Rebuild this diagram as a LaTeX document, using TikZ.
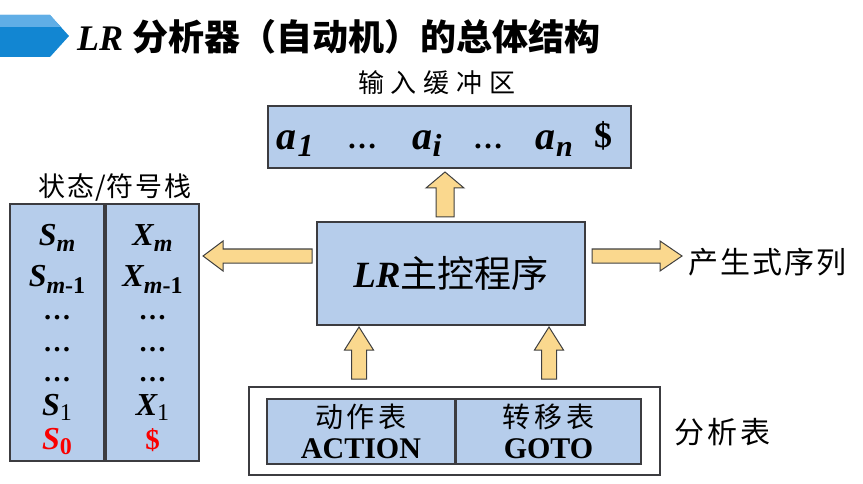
\documentclass[tikz,border=0pt]{standalone}
\usepackage{fontspec}
\setmainfont{Liberation Serif}
\newfontfamily\cjk{Noto Sans CJK SC}
\definecolor{boxfill}{RGB}{182,205,235}
\definecolor{boxline}{RGB}{60,60,64}
\definecolor{arrfill}{RGB}{250,216,142}
\definecolor{arrline}{RGB}{64,64,64}
\definecolor{bannerA}{RGB}{18,134,210}
\definecolor{bannerB}{RGB}{96,174,230}
\definecolor{stred}{RGB}{250,0,0}
\newcommand\hbarrow[6]{% y, xtail, xapex, shaft half, head half, head length (signed)
  \draw[barrow] (#2,#1-#4) -- (#3+#6,#1-#4) -- (#3+#6,#1-#5) -- (#3,#1) -- (#3+#6,#1+#5) -- (#3+#6,#1+#4) -- (#2,#1+#4) -- cycle;}
\newcommand\vbarrow[6]{% x, ytail, yapex, shaft half, head half, head length (signed)
  \draw[barrow] (#1-#4,#2) -- (#1-#4,#3+#6) -- (#1-#5,#3+#6) -- (#1,#3) -- (#1+#5,#3+#6) -- (#1+#4,#3+#6) -- (#1+#4,#2) -- cycle;}
\tikzset{
  box/.style={draw=boxline, line width=1.3pt, fill=boxfill, inner sep=0pt},
  barrow/.style={draw=arrline, line width=1pt, fill=arrfill, line join=miter},
  stk/.style={font=\fontsize{32}{32}\selectfont\bfseries\itshape, inner sep=0pt, anchor=base},
  sdots/.style={font=\fontsize{28}{28}\selectfont\bfseries, inner sep=0pt},
  buftxt/.style={font=\fontsize{40}{40}\selectfont\bfseries\itshape, inner sep=0pt, anchor=base},
  cjklbl/.style={font=\cjk\fontsize{26}{26}\selectfont, inner sep=0pt},
}
\begin{document}
\begin{tikzpicture}[x=1pt,y=-1pt]
\useasboundingbox (0,0) rectangle (863,484);
% title banner
\begin{scope}
  \clip (0,15) -- (50,15) -- (69,36) -- (50,57) -- (0,57) -- cycle;
  \fill[bannerA] (0,10) rectangle (75,60);
  \fill[bannerB] (0,10) rectangle (75,27);
\end{scope}
\node[anchor=base west, inner sep=0pt, font=\fontsize{36}{36}\selectfont] (title) at (77,51)
  {\bfseries\itshape LR\ {\cjk\bfseries\upshape 分析器（自动机）的总体结构}};
% input buffer
\node[cjklbl] (buflbl) at (437,83) {输\kern7pt 入\kern7pt 缓\kern7pt 冲\kern7pt 区};
\node[box, minimum width=363pt, minimum height=62pt] (buf) at (449.5,137) {};
\node[buftxt] (a1) at (295,150) {a\kern1pt\raisebox{-7pt}{\fontsize{32}{32}\selectfont 1}};
\node[buftxt, font=\fontsize{30}{30}\selectfont\bfseries] (d1) at (362,149) {\ldots};
\node[buftxt] (ai) at (427,150) {a\raisebox{-7pt}{\fontsize{32}{32}\selectfont i}};
\node[buftxt, font=\fontsize{30}{30}\selectfont\bfseries] (d2) at (488,149) {\ldots};
\node[buftxt] (an) at (554,150) {a\kern1pt\raisebox{-7pt}{\fontsize{30}{30}\selectfont n}};
\node[buftxt, font=\fontsize{36}{36}\selectfont\bfseries] (dol) at (603,148) {\$};
% stack
\node[cjklbl, font=\cjk\fontsize{27}{27}\selectfont] (stlbl) at (115,188) {状\kern2pt 态\kern1pt/\kern1pt 符\kern2pt 号\kern2pt 栈};
\node[box, minimum width=94pt, minimum height=257pt] (stS) at (57,332.5) {};
\node[box, minimum width=93pt, minimum height=257pt] (stX) at (152.5,332.5) {};
\node[stk] (sm) at (57,245) {S\raisebox{-6pt}{\fontsize{24}{24}\selectfont m}};
\node[stk] (sm1) at (57,287) {S\raisebox{-6pt}{\fontsize{24}{24}\selectfont m\upshape -1}};
\node[sdots] (sd1) at (57,318) {\ldots};
\node[sdots] (sd2) at (57,350) {\ldots};
\node[sdots] (sd3) at (57,380) {\ldots};
\node[stk] (s1) at (57,415) {S\raisebox{-5pt}{\fontsize{24}{24}\selectfont\upshape\mdseries 1}};
\node[stk, text=stred] (s0) at (57,449) {S\raisebox{-5pt}{\fontsize{24}{24}\selectfont\upshape 0}};
\node[stk] (xm) at (152.5,245) {X\raisebox{-6pt}{\fontsize{24}{24}\selectfont m}};
\node[stk] (xm1) at (152.5,287) {X\raisebox{-6pt}{\fontsize{24}{24}\selectfont m\upshape -1}};
\node[sdots] (xd1) at (152.5,318) {\ldots};
\node[sdots] (xd2) at (152.5,350) {\ldots};
\node[sdots] (xd3) at (152.5,380) {\ldots};
\node[stk] (x1) at (152.5,415) {X\raisebox{-5pt}{\fontsize{24}{24}\selectfont\upshape\mdseries 1}};
\node[stk, text=stred, font=\fontsize{29}{29}\selectfont\bfseries] (x0) at (152.5,449) {\$};
% main program
\node[box, minimum width=268pt, minimum height=103pt, font=\fontsize{37}{37}\selectfont] (main) at (451,273.5)
  {\bfseries\itshape LR{\cjk\mdseries\upshape 主控程序}};
% output
\node[anchor=west, inner sep=0pt, font=\cjk\fontsize{30}{30}\selectfont] (prod) at (688,262) {产\kern2pt 生\kern2pt 式\kern2pt 序\kern2pt 列};
% parse table
\node[draw=boxline, line width=1.3pt, fill=white, minimum width=411pt, minimum height=88pt] (tbl) at (454.5,431) {};
\node[box, minimum width=188pt, minimum height=65pt] (act) at (361,431.5) {};
\node[box, minimum width=185pt, minimum height=65pt] (goto) at (548.5,431.5) {};
\node[font=\cjk\fontsize{28}{28}\selectfont, inner sep=0pt] (actc) at (361,417) {动\kern4pt 作\kern4pt 表};
\node[font=\fontsize{30}{30}\selectfont\bfseries, inner sep=0pt, anchor=base] (acte) at (361,458) {ACTION};
\node[font=\cjk\fontsize{28}{28}\selectfont, inner sep=0pt] (gotoc) at (548.5,417) {转\kern4pt 移\kern4pt 表};
\node[font=\fontsize{30}{30}\selectfont\bfseries, inner sep=0pt, anchor=base] (gotoe) at (548.5,458) {GOTO};
\node[anchor=west, inner sep=0pt, font=\cjk\fontsize{30}{30}\selectfont] (tbllbl) at (674,432) {分\kern3pt 析\kern3pt 表};
% block arrows
\vbarrow{445}{217}{172}{9}{19}{16}
\hbarrow{256}{312}{203}{7}{15}{20}
\hbarrow{256}{592}{682}{7}{15}{-22}
\vbarrow{359}{379}{327}{7.5}{14.5}{23}
\vbarrow{549}{379}{327}{7.5}{14.5}{23}
\end{tikzpicture}
\end{document}
